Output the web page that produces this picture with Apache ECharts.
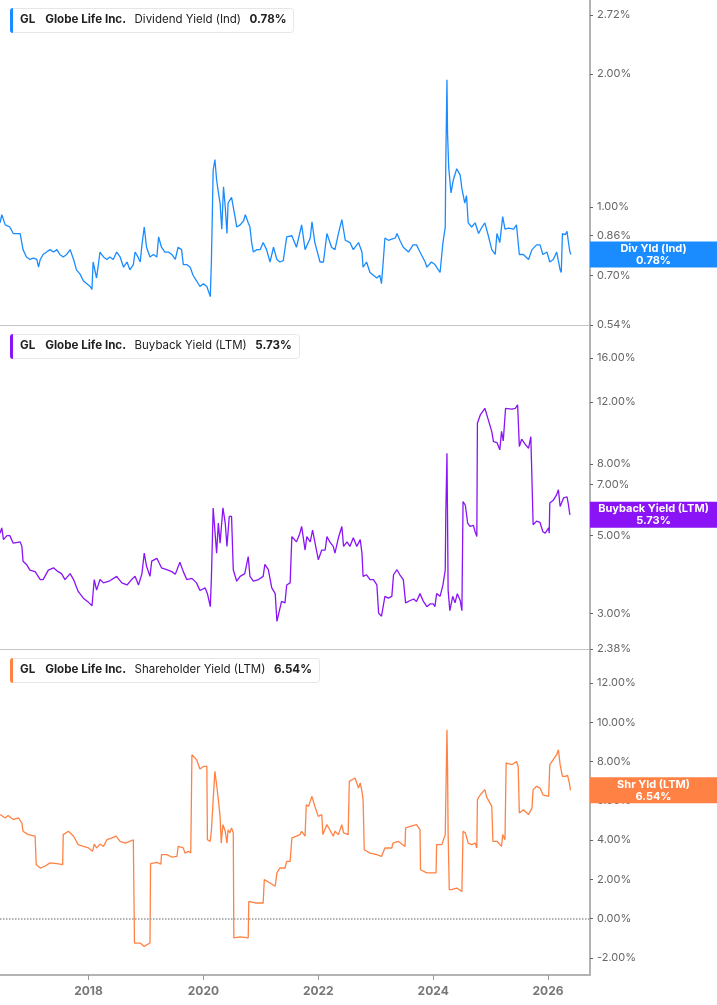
<!DOCTYPE html>
<html>
<head>
<meta charset="utf-8">
<title>GL yields</title>
<script src="https://cdn.jsdelivr.net/npm/echarts@6/dist/echarts.min.js"></script>
<style>
  html, body { margin: 0; padding: 0; background: #fff; }
  #chart { width: 717px; height: 1005px; }
</style>
</head>
<body>
<div id="chart"></div>
<script>
// decimal years
const divYears = [2016.46,2016.49,2016.55,2016.63,2016.69,2016.76,2016.81,2016.84,2016.86,2016.92,2016.98,2017.04,2017.10,2017.13,2017.16,2017.21,2017.27,2017.33,2017.39,2017.45,2017.50,2017.56,2017.62,2017.68,2017.74,2017.79,2017.85,2017.91,2017.97,2018.03,2018.06,2018.08,2018.14,2018.20,2018.26,2018.32,2018.37,2018.43,2018.49,2018.55,2018.61,2018.67,2018.72,2018.78,2018.81,2018.86,2018.90,2018.93,2018.97,2019.01,2019.07,2019.13,2019.19,2019.22,2019.27,2019.33,2019.39,2019.45,2019.51,2019.56,2019.62,2019.65,2019.71,2019.77,2019.82,2019.88,2019.94,2020.00,2020.06,2020.12,2020.14,2020.17,2020.20,2020.23,2020.26,2020.29,2020.32,2020.35,2020.38,2020.41,2020.43,2020.49,2020.55,2020.58,2020.64,2020.70,2020.73,2020.78,2020.81,2020.84,2020.87,2020.93,2020.99,2021.04,2021.10,2021.16,2021.22,2021.28,2021.33,2021.39,2021.45,2021.54,2021.62,2021.71,2021.77,2021.86,2021.89,2021.94,2022.03,2022.09,2022.15,2022.23,2022.29,2022.35,2022.41,2022.47,2022.55,2022.61,2022.70,2022.73,2022.76,2022.78,2022.84,2022.90,2022.96,2023.02,2023.07,2023.10,2023.13,2023.16,2023.22,2023.28,2023.34,2023.37,2023.42,2023.48,2023.57,2023.65,2023.71,2023.77,2023.86,2023.89,2023.97,2024.03,2024.12,2024.17,2024.21,2024.22,2024.24,2024.25,2024.27,2024.31,2024.35,2024.41,2024.47,2024.50,2024.55,2024.58,2024.61,2024.67,2024.73,2024.79,2024.85,2024.90,2024.96,2025.02,2025.08,2025.11,2025.16,2025.21,2025.25,2025.31,2025.40,2025.45,2025.50,2025.57,2025.66,2025.72,2025.80,2025.86,2025.91,2025.98,2026.03,2026.09,2026.15,2026.21,2026.23,2026.25,2026.30,2026.33,2026.35,2026.38,2026.40];
const divValues = [0.92,0.96,0.91,0.90,0.87,0.87,0.87,0.87,0.80,0.77,0.76,0.765,0.76,0.73,0.76,0.78,0.79,0.80,0.79,0.80,0.78,0.77,0.78,0.80,0.76,0.72,0.705,0.68,0.67,0.66,0.65,0.75,0.69,0.79,0.77,0.76,0.77,0.76,0.79,0.77,0.73,0.75,0.72,0.74,0.79,0.77,0.75,0.82,0.90,0.81,0.77,0.78,0.77,0.855,0.81,0.79,0.79,0.78,0.76,0.81,0.80,0.74,0.74,0.73,0.70,0.68,0.66,0.67,0.66,0.626,0.76,1.21,1.28,1.15,1.08,1.02,0.89,1.11,1.00,0.87,1.02,1.05,0.95,0.90,0.91,0.93,0.96,0.92,0.90,0.83,0.79,0.80,0.80,0.83,0.80,0.75,0.81,0.76,0.75,0.755,0.855,0.86,0.81,0.91,0.80,0.85,0.925,0.83,0.75,0.75,0.87,0.81,0.80,0.87,0.935,0.84,0.83,0.80,0.83,0.83,0.79,0.73,0.75,0.71,0.70,0.69,0.70,0.67,0.75,0.85,0.84,0.845,0.85,0.87,0.84,0.81,0.79,0.82,0.82,0.79,0.75,0.73,0.75,0.74,0.71,0.83,0.90,1.28,1.94,1.47,1.23,1.075,1.15,1.22,1.18,1.10,1.02,1.06,0.92,0.90,0.92,0.87,0.90,0.92,0.86,0.80,0.78,0.87,0.83,0.95,0.89,0.895,0.89,0.91,0.78,0.78,0.76,0.80,0.82,0.82,0.78,0.79,0.75,0.76,0.79,0.72,0.71,0.87,0.865,0.88,0.84,0.79,0.78];

const buyYears = [2016.46,2016.49,2016.52,2016.58,2016.63,2016.69,2016.81,2016.84,2016.86,2016.92,2016.98,2017.07,2017.16,2017.21,2017.30,2017.39,2017.47,2017.53,2017.59,2017.68,2017.74,2017.82,2017.91,2018.00,2018.06,2018.10,2018.14,2018.20,2018.26,2018.37,2018.49,2018.58,2018.67,2018.75,2018.81,2018.87,2018.93,2018.97,2019.01,2019.07,2019.10,2019.19,2019.27,2019.36,2019.45,2019.51,2019.59,2019.65,2019.71,2019.80,2019.88,2019.94,2020.03,2020.07,2020.12,2020.14,2020.17,2020.20,2020.23,2020.26,2020.29,2020.34,2020.38,2020.41,2020.45,2020.49,2020.52,2020.58,2020.64,2020.72,2020.78,2020.81,2020.87,2020.96,2021.04,2021.07,2021.13,2021.19,2021.25,2021.28,2021.30,2021.36,2021.42,2021.45,2021.51,2021.54,2021.62,2021.68,2021.71,2021.77,2021.80,2021.86,2021.90,2021.94,2022.00,2022.06,2022.12,2022.15,2022.20,2022.26,2022.29,2022.35,2022.41,2022.44,2022.50,2022.55,2022.61,2022.67,2022.73,2022.76,2022.78,2022.84,2022.90,2022.96,2023.02,2023.05,2023.10,2023.16,2023.22,2023.28,2023.31,2023.37,2023.42,2023.48,2023.52,2023.60,2023.66,2023.71,2023.77,2023.83,2023.89,2023.95,2024.00,2024.03,2024.06,2024.12,2024.17,2024.21,2024.22,2024.24,2024.25,2024.26,2024.29,2024.34,2024.38,2024.42,2024.47,2024.50,2024.52,2024.56,2024.60,2024.64,2024.70,2024.73,2024.76,2024.77,2024.82,2024.90,2024.96,2025.02,2025.05,2025.11,2025.16,2025.19,2025.22,2025.26,2025.28,2025.37,2025.43,2025.47,2025.50,2025.54,2025.60,2025.66,2025.70,2025.73,2025.74,2025.80,2025.86,2025.91,2025.95,2026.01,2026.02,2026.03,2026.09,2026.15,2026.18,2026.21,2026.27,2026.33,2026.35,2026.38];
const buyValues = [5.08,5.26,4.87,5.0,5.0,4.76,4.8,4.66,4.23,4.14,3.99,3.95,3.75,3.75,3.99,4.05,3.95,3.9,3.75,3.9,3.75,3.47,3.32,3.23,3.16,3.75,3.5,3.75,3.67,3.72,3.83,3.67,3.62,3.75,3.83,3.62,3.9,4.46,4.09,3.83,4.23,4.31,4.05,4.0,3.95,3.88,4.2,3.95,3.75,3.78,3.67,3.49,3.55,3.42,3.14,3.83,5.99,6.0,4.46,5.43,4.76,6.0,5.43,4.66,5.67,5.67,4.0,3.71,3.83,3.9,4.36,3.83,3.71,3.75,3.83,4.14,4.0,3.55,3.42,2.85,2.85,3.25,3.22,3.62,3.67,4.97,4.8,5.08,5.31,4.55,4.97,4.8,5.18,4.8,4.27,4.55,4.55,4.97,4.8,4.66,4.46,4.93,5.31,4.66,4.8,4.66,4.93,4.66,4.87,4.46,3.83,3.87,3.75,3.75,3.62,3.01,2.95,3.36,3.32,3.36,3.87,4.0,3.87,3.75,3.22,3.27,3.3,3.25,3.42,3.25,3.14,3.2,3.2,3.14,3.42,3.36,3.62,3.99,5.79,8.57,5.6,3.5,3.06,3.36,3.22,3.42,3.27,3.06,6.25,6.1,5.43,5.31,5.35,5.13,4.97,10.44,11.02,11.51,10.67,9.88,9.25,9.2,8.77,9.9,9.3,11.5,11.5,11.45,11.5,11.77,8.96,9.4,9.1,8.86,9.56,9.5,5.37,5.5,5.45,5.13,5.08,5.26,5.08,6.19,6.3,6.54,6.75,6.05,6.4,6.45,6.19,5.73];

const shrYears = [2016.46,2016.49,2016.55,2016.60,2016.69,2016.78,2016.84,2016.86,2016.95,2017.07,2017.09,2017.16,2017.24,2017.33,2017.45,2017.55,2017.56,2017.65,2017.68,2017.74,2017.82,2017.91,2018.00,2018.07,2018.10,2018.14,2018.20,2018.26,2018.32,2018.40,2018.48,2018.55,2018.64,2018.72,2018.78,2018.80,2018.90,2018.97,2019.07,2019.08,2019.19,2019.26,2019.27,2019.36,2019.45,2019.54,2019.56,2019.65,2019.68,2019.74,2019.78,2019.80,2019.88,2019.94,2020.00,2020.06,2020.07,2020.12,2020.14,2020.17,2020.20,2020.23,2020.26,2020.29,2020.31,2020.34,2020.38,2020.41,2020.43,2020.46,2020.49,2020.52,2020.53,2020.64,2020.78,2020.79,2020.90,2021.04,2021.06,2021.16,2021.25,2021.28,2021.33,2021.42,2021.45,2021.51,2021.54,2021.62,2021.68,2021.71,2021.77,2021.79,2021.83,2021.89,2021.94,2022.00,2022.06,2022.08,2022.15,2022.20,2022.26,2022.29,2022.35,2022.41,2022.44,2022.52,2022.54,2022.64,2022.70,2022.73,2022.76,2022.78,2022.80,2022.90,2023.02,2023.10,2023.16,2023.28,2023.30,2023.39,2023.51,2023.52,2023.60,2023.71,2023.77,2023.78,2023.89,2024.05,2024.06,2024.15,2024.21,2024.22,2024.24,2024.25,2024.26,2024.28,2024.32,2024.41,2024.50,2024.52,2024.56,2024.61,2024.67,2024.73,2024.76,2024.77,2024.82,2024.90,2024.93,2025.02,2025.04,2025.11,2025.19,2025.21,2025.25,2025.27,2025.37,2025.45,2025.48,2025.50,2025.57,2025.66,2025.72,2025.74,2025.80,2025.86,2025.91,2026.01,2026.02,2026.03,2026.09,2026.15,2026.18,2026.21,2026.25,2026.30,2026.34,2026.37,2026.39];
const shrValues = [5.3,5.2,5.13,5.25,5.05,5.13,4.87,4.45,4.28,4.2,2.75,2.58,2.67,2.84,2.8,2.75,4.28,4.45,4.37,4.2,3.77,3.68,3.6,3.43,3.8,3.6,3.8,3.68,4.02,4.1,4.2,3.94,3.85,3.94,4.02,-1.24,-1.24,-1.41,-1.24,2.8,2.87,2.77,3.26,3.26,3.14,3.17,3.68,3.6,3.34,3.43,3.34,8.35,8.1,7.62,7.75,7.75,4.02,3.94,4.53,6.06,7.5,6.82,6.06,5.21,3.85,4.79,4.45,3.85,4.53,4.37,4.62,4.37,-0.98,-0.93,-0.98,0.88,0.8,0.8,1.99,1.82,1.65,2.33,2.58,2.58,2.92,2.92,4.11,4.2,4.28,4.45,4.2,5.8,5.72,6.23,5.72,5.21,5.3,4.28,4.79,4.53,4.2,4.45,4.28,4.79,4.37,4.28,6.99,7.16,6.65,6.91,6.48,6.06,3.51,3.34,3.26,3.17,3.6,3.6,3.85,3.94,3.68,4.62,4.7,4.79,4.53,2.49,2.33,2.33,3.77,3.77,4.28,6.06,9.62,7.75,4.37,1.48,1.48,1.56,1.39,4.45,4.37,3.85,3.77,3.85,3.6,6.06,6.31,6.57,6.2,5.72,3.94,3.94,3.68,4.28,4.02,7.93,7.84,8.0,7.75,5.38,5.55,5.3,5.64,6.57,6.74,6.65,6.31,6.23,6.31,7.84,8.1,8.35,8.6,7.84,7.25,7.25,7.3,6.91,6.54];

const yearTicks = [2018, 2020, 2022, 2024, 2026];
const divTicks = [0.54, 0.70, 0.86, 1.00, 2.00, 2.72];
const buyTicks = [2.38, 3, 5, 7, 8, 12, 16];
const shrTicks = [-2, 0, 2, 4, 6, 8, 10, 12];

const X_MIN = 2016.459, X_MAX = 2026.73;
const BLUE = '#1a8cff', PURPLE = '#8a14f5', ORANGE = '#ff8244';
const FONT = 'Inter, "Noto Sans", sans-serif';

const chart = echarts.init(document.getElementById('chart'));

function pairs(xs, ys, tf) {
  return xs.map((x, i) => [x, tf ? tf(ys[i]) : ys[i]]);
}
const pct = v => v.toFixed(2) + '%';

// text measuring for the legend boxes
const measureCtx = document.createElement('canvas').getContext('2d');
function textWidth(text, font) {
  measureCtx.font = font;
  return measureCtx.measureText(text).width;
}

function xAxisFor(idx, bottom) {
  return {
    type: 'value', gridIndex: idx, min: X_MIN, max: X_MAX,
    splitLine: { show: false },
    axisLine: { show: true, onZero: false, lineStyle: { color: bottom ? '#b3b3b3' : '#c4c4c4', width: bottom ? 2 : 1 } },
    axisTick: bottom ? { show: true, customValues: yearTicks, length: 5, lineStyle: { color: '#999' } } : { show: false },
    axisLabel: bottom ? {
      show: true, customValues: yearTicks, formatter: v => String(v),
      color: '#777', fontWeight: 'bold', fontSize: 12, margin: 10, fontFamily: FONT
    } : { show: false }
  };
}

function yAxisFor(idx, min, max, ticks, tf, fmt) {
  const vals = ticks.map(t => tf ? tf(t) : t);
  return {
    type: 'value', gridIndex: idx, position: 'right', min: min, max: max,
    splitLine: { show: false },
    axisLine: { show: true, onZero: false, lineStyle: { color: '#b3b3b3', width: 2 } },
    axisTick: { show: true, customValues: vals, length: 3, lineStyle: { color: '#666' } },
    axisLabel: { show: true, customValues: vals, formatter: fmt, color: '#666', fontSize: 11, margin: 7, fontFamily: FONT }
  };
}

function endTag(color, label, yVal, last) {
  return {
    silent: true,
    symbol: 'rect', symbolSize: [127, 26], symbolOffset: [63.5, 0],
    itemStyle: { color: color },
    label: {
      show: true, position: 'inside', formatter: label + '\n' + pct(last),
      color: '#fff', fontWeight: 'bold', fontSize: 11, lineHeight: 12, fontFamily: FONT
    },
    data: [{ coord: [X_MAX, yVal] }]
  };
}

function legendBox(top, color, metric, value) {
  const boldFont = 'bold 11.6px ' + FONT;
  const normFont = '11.5px ' + FONT;
  const gap = 8.5;
  const parts = [['GL', true], ['Globe Life Inc.', true], [metric, false], [value, true]];
  const children = [];
  let x = 10;
  parts.forEach(([text, bold], i) => {
    children.push({
      type: 'text', x: x, y: 12, z: 2,
      style: { text: text, fill: '#222', font: bold ? boldFont : normFont, verticalAlign: 'middle' }
    });
    x += textWidth(text, bold ? boldFont : normFont) + (i === 0 ? 10 : gap);
  });
  const width = Math.round(x - gap + 7);
  children.unshift(
    { type: 'rect', shape: { x: 0.5, y: 0.5, width: width, height: 24, r: 3 }, style: { fill: '#fff', stroke: '#e6e6e6', lineWidth: 1 } },
    { type: 'rect', shape: { x: 0, y: 0, width: 3, height: 25, r: [3, 0, 0, 3] }, style: { fill: color } }
  );
  return { type: 'group', left: 10, top: top, children: children };
}

const divLast = divValues[divValues.length - 1];
const buyLast = buyValues[buyValues.length - 1];
const shrLast = shrValues[shrValues.length - 1];

chart.setOption({
  animation: false,
  backgroundColor: '#fff',
  textStyle: { fontFamily: FONT },
  grid: [
    { left: 0, right: 127, top: 0, height: 325 },
    { left: 0, right: 127, top: 325, height: 324 },
    { left: 0, right: 127, top: 649, height: 326 }
  ],
  xAxis: [xAxisFor(0, false), xAxisFor(1, false), xAxisFor(2, true)],
  yAxis: [
    yAxisFor(0, Math.log(0.54), Math.log(2.94), divTicks, Math.log, v => pct(Math.exp(v))),
    yAxisFor(1, Math.log(2.38), Math.log(19.86), buyTicks, Math.log, v => pct(Math.exp(v))),
    yAxisFor(2, -2.866, 13.73, shrTicks, null, v => pct(v))
  ],
  series: [
    {
      name: 'Dividend Yield (Ind)', type: 'line', xAxisIndex: 0, yAxisIndex: 0,
      data: pairs(divYears, divValues, Math.log), showSymbol: false, symbol: 'none',
      lineStyle: { color: BLUE, width: 1.3 }, itemStyle: { color: BLUE },
      markPoint: endTag(BLUE, 'Div Yld (Ind)', Math.log(divLast), divLast)
    },
    {
      name: 'Buyback Yield (LTM)', type: 'line', xAxisIndex: 1, yAxisIndex: 1,
      data: pairs(buyYears, buyValues, Math.log), showSymbol: false, symbol: 'none',
      lineStyle: { color: PURPLE, width: 1.3 }, itemStyle: { color: PURPLE },
      markPoint: endTag(PURPLE, 'Buyback Yield (LTM)', Math.log(buyLast), buyLast)
    },
    {
      name: 'Shareholder Yield (LTM)', type: 'line', xAxisIndex: 2, yAxisIndex: 2,
      data: pairs(shrYears, shrValues), showSymbol: false, symbol: 'none',
      lineStyle: { color: ORANGE, width: 1.3 }, itemStyle: { color: ORANGE },
      markLine: {
        silent: true, symbol: ['none', 'none'], label: { show: false },
        lineStyle: { color: '#999', type: 'dotted', width: 1.5 },
        data: [{ yAxis: 0 }]
      },
      markPoint: endTag(ORANGE, 'Shr Yld (LTM)', shrLast, shrLast)
    }
  ],
  graphic: [
    legendBox(8, BLUE, 'Dividend Yield (Ind)', pct(divLast)),
    legendBox(334, PURPLE, 'Buyback Yield (LTM)', pct(buyLast)),
    legendBox(658, ORANGE, 'Shareholder Yield (LTM)', pct(shrLast))
  ]
});
</script>
</body>
</html>
